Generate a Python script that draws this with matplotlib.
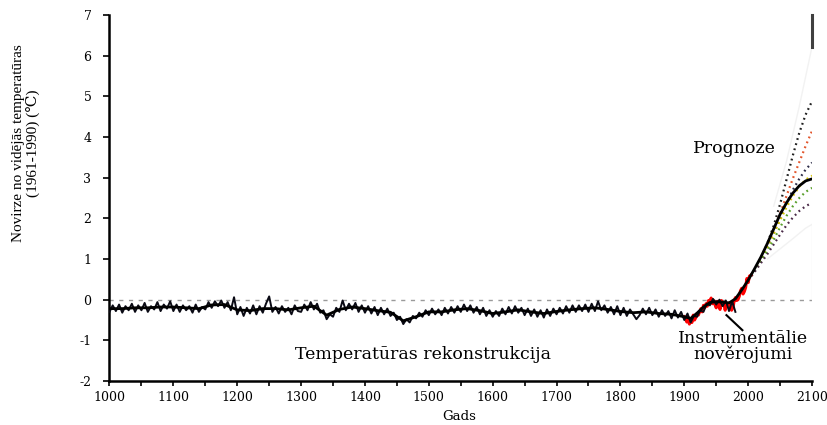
import numpy as np
import matplotlib
matplotlib.use("Agg")
import matplotlib.pyplot as plt
from matplotlib.ticker import MultipleLocator

plt.rcParams["axes.unicode_minus"] = False

# ── data ──────────────────────────────────────────────────────────────────────
# reconstruction, 5-year steps 1000..1980
recon_years = np.arange(1000, 1981, 5)
recon_vals = [
    -0.30, -0.14, -0.28, -0.12, -0.32, -0.16, -0.26, -0.10, -0.30, -0.14,
    -0.26, -0.08, -0.30, -0.16, -0.24, -0.06, -0.28, -0.12, -0.22, -0.04,   # 1000s
    -0.28, -0.12, -0.30, -0.14, -0.26, -0.16, -0.32, -0.12, -0.30, -0.18,
    -0.24, -0.06, -0.20, -0.04, -0.16, -0.02, -0.20, -0.06, -0.26, 0.06,    # 1100s
    -0.36, -0.18, -0.40, -0.20, -0.34, -0.14, -0.36, -0.16, -0.32, -0.10,
    0.08, -0.30, -0.18, -0.34, -0.16, -0.30, -0.20, -0.36, -0.14, -0.28,    # 1200s
    -0.30, -0.12, -0.26, -0.06, -0.24, -0.10, -0.32, -0.26, -0.48, -0.36,
    -0.42, -0.20, -0.30, -0.02, -0.26, -0.10, -0.24, -0.08, -0.30, -0.14,   # 1300s
    -0.32, -0.16, -0.34, -0.18, -0.38, -0.20, -0.36, -0.22, -0.40, -0.32,
    -0.50, -0.42, -0.60, -0.48, -0.56, -0.40, -0.46, -0.32, -0.42, -0.26,   # 1400s
    -0.38, -0.22, -0.36, -0.24, -0.38, -0.20, -0.34, -0.18, -0.32, -0.16,
    -0.30, -0.12, -0.28, -0.14, -0.32, -0.18, -0.36, -0.20, -0.40, -0.26,   # 1500s
    -0.42, -0.28, -0.40, -0.22, -0.36, -0.18, -0.34, -0.16, -0.32, -0.20,
    -0.38, -0.22, -0.40, -0.24, -0.42, -0.26, -0.44, -0.24, -0.40, -0.22,   # 1600s
    -0.36, -0.20, -0.34, -0.16, -0.32, -0.14, -0.30, -0.14, -0.28, -0.12,
    -0.30, -0.10, -0.28, -0.04, -0.26, -0.14, -0.32, -0.18, -0.36, -0.16,   # 1700s
    -0.38, -0.20, -0.40, -0.24, -0.36, -0.48, -0.38, -0.22, -0.36, -0.20,
    -0.38, -0.24, -0.42, -0.26, -0.40, -0.28, -0.46, -0.26, -0.44, -0.30,   # 1800s
    -0.50, -0.34, -0.56, -0.40, -0.42, -0.26, -0.30, -0.10, -0.14, 0.02,
    -0.12, 0.00, -0.16, -0.02, -0.28, -0.04, -0.30,                         # 1900s
]

# smoothed curve, historical part
smooth_years = [
    1000, 1020, 1040, 1060, 1080, 1100, 1120, 1140, 1160, 1180,
    1200, 1220, 1240, 1260, 1280, 1300, 1320, 1340, 1360, 1380,
    1400, 1420, 1440, 1460, 1480, 1500, 1520, 1540, 1560, 1580,
    1600, 1620, 1640, 1660, 1680, 1700, 1720, 1740, 1760, 1780,
    1800, 1820, 1840, 1860, 1880, 1900, 1910, 1920, 1930, 1940,
    1950, 1960, 1970, 1980, 1990,
]
smooth_vals = [
    -0.22, -0.22, -0.20, -0.20, -0.18, -0.18, -0.20, -0.22, -0.13, -0.12,
    -0.25, -0.27, -0.22, -0.22, -0.25, -0.20, -0.16, -0.38, -0.24, -0.18,
    -0.22, -0.27, -0.31, -0.52, -0.42, -0.30, -0.30, -0.25, -0.22, -0.27,
    -0.34, -0.30, -0.25, -0.30, -0.34, -0.29, -0.25, -0.22, -0.20, -0.24,
    -0.29, -0.32, -0.30, -0.34, -0.36, -0.42, -0.46, -0.33, -0.18, -0.07,
    -0.05, -0.06, -0.08, 0.02, 0.24,
]

# instrumental record, 2-year steps 1900..2004
instr_years = np.arange(1900, 2005, 2)
instr_vals = [
    -0.42, -0.48, -0.55, -0.44, -0.60, -0.50, -0.56, -0.38, -0.50, -0.44,
    -0.34, -0.38, -0.30, -0.22, -0.30, -0.14, -0.20, -0.10, -0.16, -0.02,
    -0.06, 0.04, -0.10, -0.02, -0.12, -0.20, -0.04, -0.14, -0.24, -0.02,
    -0.06, -0.10, -0.26, -0.10, -0.16, -0.08, -0.18, -0.26, -0.20, -0.04,
    0.05, -0.02, 0.00, 0.08, 0.22, 0.28, 0.14, 0.20, 0.30, 0.52,
    0.42, 0.58, 0.60,
]

# projections 2000..2100
proj_years = np.arange(2000, 2101, 10)
proj_mean = [0.48, 0.76, 1.05, 1.38, 1.74, 2.10, 2.38, 2.62, 2.80, 2.92, 2.97]
proj_scenarios = {
    "#1e1e1e": [0.48, 0.74, 1.03, 1.38, 1.82, 2.35, 2.95, 3.55, 4.10, 4.55, 4.88],
    "#e2542a": [0.48, 0.74, 1.02, 1.34, 1.72, 2.12, 2.55, 2.98, 3.38, 3.78, 4.15],
    "#2c2c48": [0.48, 0.73, 1.00, 1.30, 1.64, 2.00, 2.37, 2.70, 2.97, 3.20, 3.37],
    "#d8c400": [0.48, 0.73, 1.00, 1.30, 1.62, 1.95, 2.27, 2.55, 2.78, 2.95, 3.05],
    "#5aa02c": [0.48, 0.70, 0.95, 1.20, 1.48, 1.78, 2.06, 2.30, 2.50, 2.65, 2.75],
    "#4a2a48": [0.48, 0.68, 0.90, 1.12, 1.36, 1.60, 1.83, 2.02, 2.18, 2.30, 2.38],
}
# faint range envelope behind the projections
env_upper_years = [2040, 2060, 2080, 2100]
env_upper_vals = [2.30, 3.40, 4.75, 6.22]
env_lower_years = [2030, 2050, 2070, 2090, 2100]
env_lower_vals = [1.00, 1.25, 1.50, 1.76, 1.85]
range_bar = [6.22, 7.0]

# ── figure ────────────────────────────────────────────────────────────────────
serif_wide = "DejaVu Serif"
serif = "Liberation Serif"

fig = plt.figure(figsize=(8.27, 4.25), dpi=100)
ax = fig.add_axes([0.1324, 0.1035, 0.8495, 0.8612])

ax.set_xlim(1000, 2100)
ax.set_ylim(-2, 7)

# zero reference
ax.plot([1000, 2100], [0, 0], color="#9a9a9a", lw=1.0,
        linestyle=(0, (3, 4)), zorder=1)

# faint envelope
ax.plot(env_upper_years, env_upper_vals, color="#f2f2f2", lw=1.0, zorder=1)
ax.plot(env_lower_years, env_lower_vals, color="#f2f2f2", lw=1.0, zorder=1)
ax.plot([2100, 2100], [0.02, env_lower_vals[-1]], color="#f2f2f2", lw=1.0,
        zorder=1)

# projections
for color, vals in proj_scenarios.items():
    ax.plot(proj_years, vals, color=color, lw=1.6,
            linestyle=(0, (0.8, 1.6)), zorder=2)

# instrumental record
ax.plot(instr_years, instr_vals, color="#ff0000", lw=2.2, zorder=3)

# reconstruction
ax.plot(recon_years, recon_vals, color="#0a0a14", lw=1.4, zorder=4)

# smoothed curve through to 2100
ax.plot(list(smooth_years) + list(proj_years), smooth_vals + proj_mean,
        color="black", lw=2.0, zorder=5, solid_capstyle="round")

# range bar at 2100
ax.plot([2100, 2100], range_bar, color="#404040", lw=2.2, zorder=5,
        clip_on=False)

# pointer to the instrumental record
ax.plot([1966, 1991], [-0.38, -0.75], color="black", lw=1.5, zorder=6)

ax.text(1491, -1.46, "Temperatūras rekonstrukcija", ha="center",
        va="baseline", fontsize=12.5, family=serif_wide)
ax.text(1979, 3.61, "Prognoze", ha="center", va="baseline",
        fontsize=12.5, family=serif_wide)
ax.text(1992, -1.07, "Instrumentālie", ha="center", va="baseline",
        fontsize=12.5, family=serif_wide)
ax.text(1992, -1.47, "nověrojumi", ha="center", va="baseline",
        fontsize=12.5, family=serif_wide)

# axes styling
for side in ("top", "right"):
    ax.spines[side].set_visible(False)
for side in ("left", "bottom"):
    ax.spines[side].set_linewidth(1.8)

ax.xaxis.set_major_locator(MultipleLocator(100))
ax.xaxis.set_minor_locator(MultipleLocator(50))
ax.yaxis.set_major_locator(MultipleLocator(1))
ax.tick_params(axis="x", which="both", direction="out", length=3.5,
               width=1.2, pad=4)
ax.tick_params(axis="y", direction="out", length=4, width=1.2, pad=9)
for lab in ax.get_xticklabels() + ax.get_yticklabels():
    lab.set_fontfamily(serif_wide)
    lab.set_fontsize(9)

fig.text(26 / 827, 1 - 143 / 425,
         "Novirze no vidējās temperatūras\n(1961-1990) (℃)",
         rotation=90, ha="center", va="center", multialignment="center",
         fontsize=11, family=[serif, "DejaVu Serif"], linespacing=1.15)
fig.text(459 / 827, 1 - 423 / 425, "Gads", ha="center", va="bottom",
         fontsize=9.5, family=serif_wide)

fig.savefig("out.png", dpi=100)
